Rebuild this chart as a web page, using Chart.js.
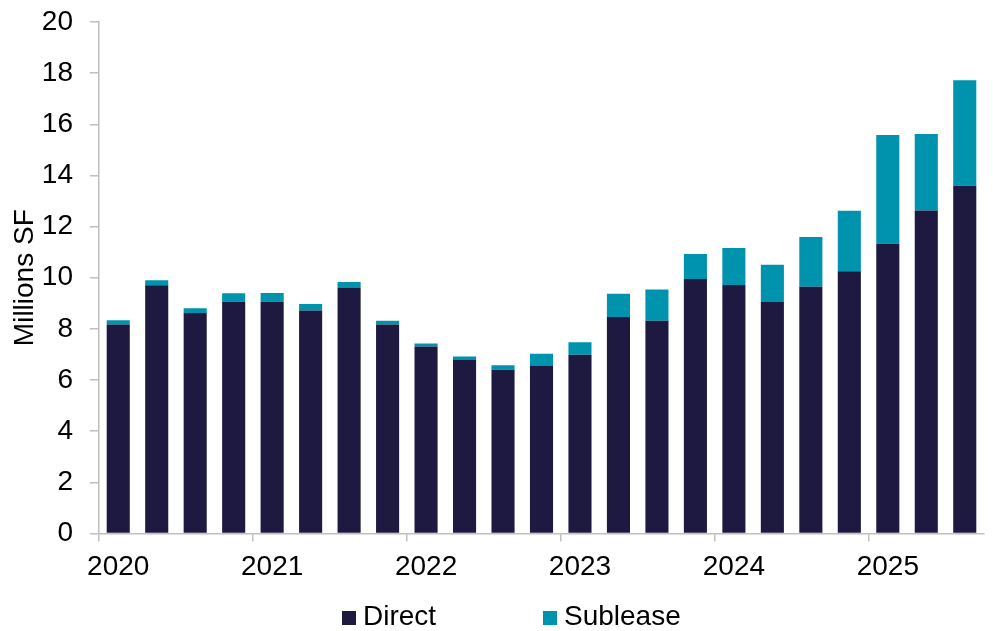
<!DOCTYPE html>
<html>
<head>
<meta charset="utf-8">
<script src="https://cdn.jsdelivr.net/npm/chart.js@4.4.1/dist/chart.umd.min.js"></script>
<style>
  html, body { margin: 0; padding: 0; background: #fff; }
  #wrap { position: relative; width: 993px; height: 631px; }
  #legend { position: absolute; left: 0; top: 600px; width: 993px; height: 32px; font-family: "Liberation Sans", Arial, sans-serif; font-size: 28px; color: #000; }
  .item { position: absolute; top: 0; height: 32px; line-height: 32px; white-space: nowrap; }
  .sw { display: inline-block; width: 14px; height: 14px; margin-right: 7px; vertical-align: 0px; }
</style>
</head>
<body>
<div id="wrap">
  <canvas id="c" width="993" height="631"></canvas>
  <div id="legend"></div>
</div>
<script>
const categories = ['2020','','','','2021','','','','2022','','','','2023','','','','2024','','','','2025','',''];
const seriesNames = ['Direct', 'Sublease'];
const directValues = [8.17, 9.70, 8.62, 9.06, 9.06, 8.72, 9.62, 8.17, 7.31, 6.80, 6.40, 6.57, 6.99, 8.46, 8.32, 9.95, 9.71, 9.05, 9.65, 10.25, 11.33, 12.63, 13.60];
const subleaseValues = [0.17, 0.20, 0.19, 0.33, 0.34, 0.25, 0.21, 0.15, 0.12, 0.12, 0.18, 0.46, 0.49, 0.91, 1.22, 0.98, 1.45, 1.46, 1.94, 2.37, 4.25, 2.99, 4.12];
const yTicks = [0, 2, 4, 6, 8, 10, 12, 14, 16, 18, 20];
const colors = ['#1E1941', '#0093AE'];

const FONT = '"Liberation Sans", Arial, sans-serif';
const GREY = '#BFBFBF';

new Chart(document.getElementById('c'), {
  type: 'bar',
  data: {
    labels: categories,
    datasets: [
      { label: seriesNames[0], data: directValues, backgroundColor: colors[0], borderWidth: 0, barPercentage: 0.6, categoryPercentage: 1.0 },
      { label: seriesNames[1], data: subleaseValues, backgroundColor: colors[1], borderWidth: 0, barPercentage: 0.6, categoryPercentage: 1.0 }
    ]
  },
  options: {
    responsive: false,
    animation: false,
    layout: { padding: { left: 8, right: 9, top: 22, bottom: 38 } },
    plugins: { legend: { display: false }, tooltip: { enabled: false } },
    scales: {
      x: {
        stacked: true,
        offset: true,
        afterFit: (s) => { s.paddingLeft = 0; s.paddingRight = 0; },
        grid: {
          offset: true,
          drawOnChartArea: false,
          drawTicks: true,
          tickLength: 8,
          lineWidth: 1.5,
          color: (ctx) => (ctx.index % 4 === 0 ? GREY : 'rgba(0,0,0,0)')
        },
        border: { color: GREY, width: 1.5 },
        ticks: {
          autoSkip: false, maxRotation: 0, minRotation: 0,
          color: '#000', font: { family: FONT, size: 28 }, padding: 9
        }
      },
      y: {
        stacked: true,
        min: 0, max: 20,
        afterFit: (s) => { s.paddingTop = 0; s.paddingBottom = 0; s.width = 91; },
        afterBuildTicks: (axis) => { axis.ticks = yTicks.map(v => ({ value: v })); },
        grid: { drawOnChartArea: false, drawTicks: true, tickLength: 9, lineWidth: 1.5, color: GREY },
        border: { color: GREY, width: 1.5 },
        ticks: { color: '#000', font: { family: FONT, size: 28 }, padding: 17 },
        title: { display: true, text: 'Millions SF', color: '#000', font: { family: FONT, size: 28 }, padding: { top: 0, bottom: 0 } }
      }
    }
  }
});

const legend = document.getElementById('legend');
const legendLeft = [342, 543];
seriesNames.forEach((name, i) => {
  const d = document.createElement('div');
  d.className = 'item';
  d.style.left = legendLeft[i] + 'px';
  d.innerHTML = '<span class="sw" style="background:' + colors[i] + '"></span>' + name;
  legend.appendChild(d);
});
</script>
</body>
</html>
